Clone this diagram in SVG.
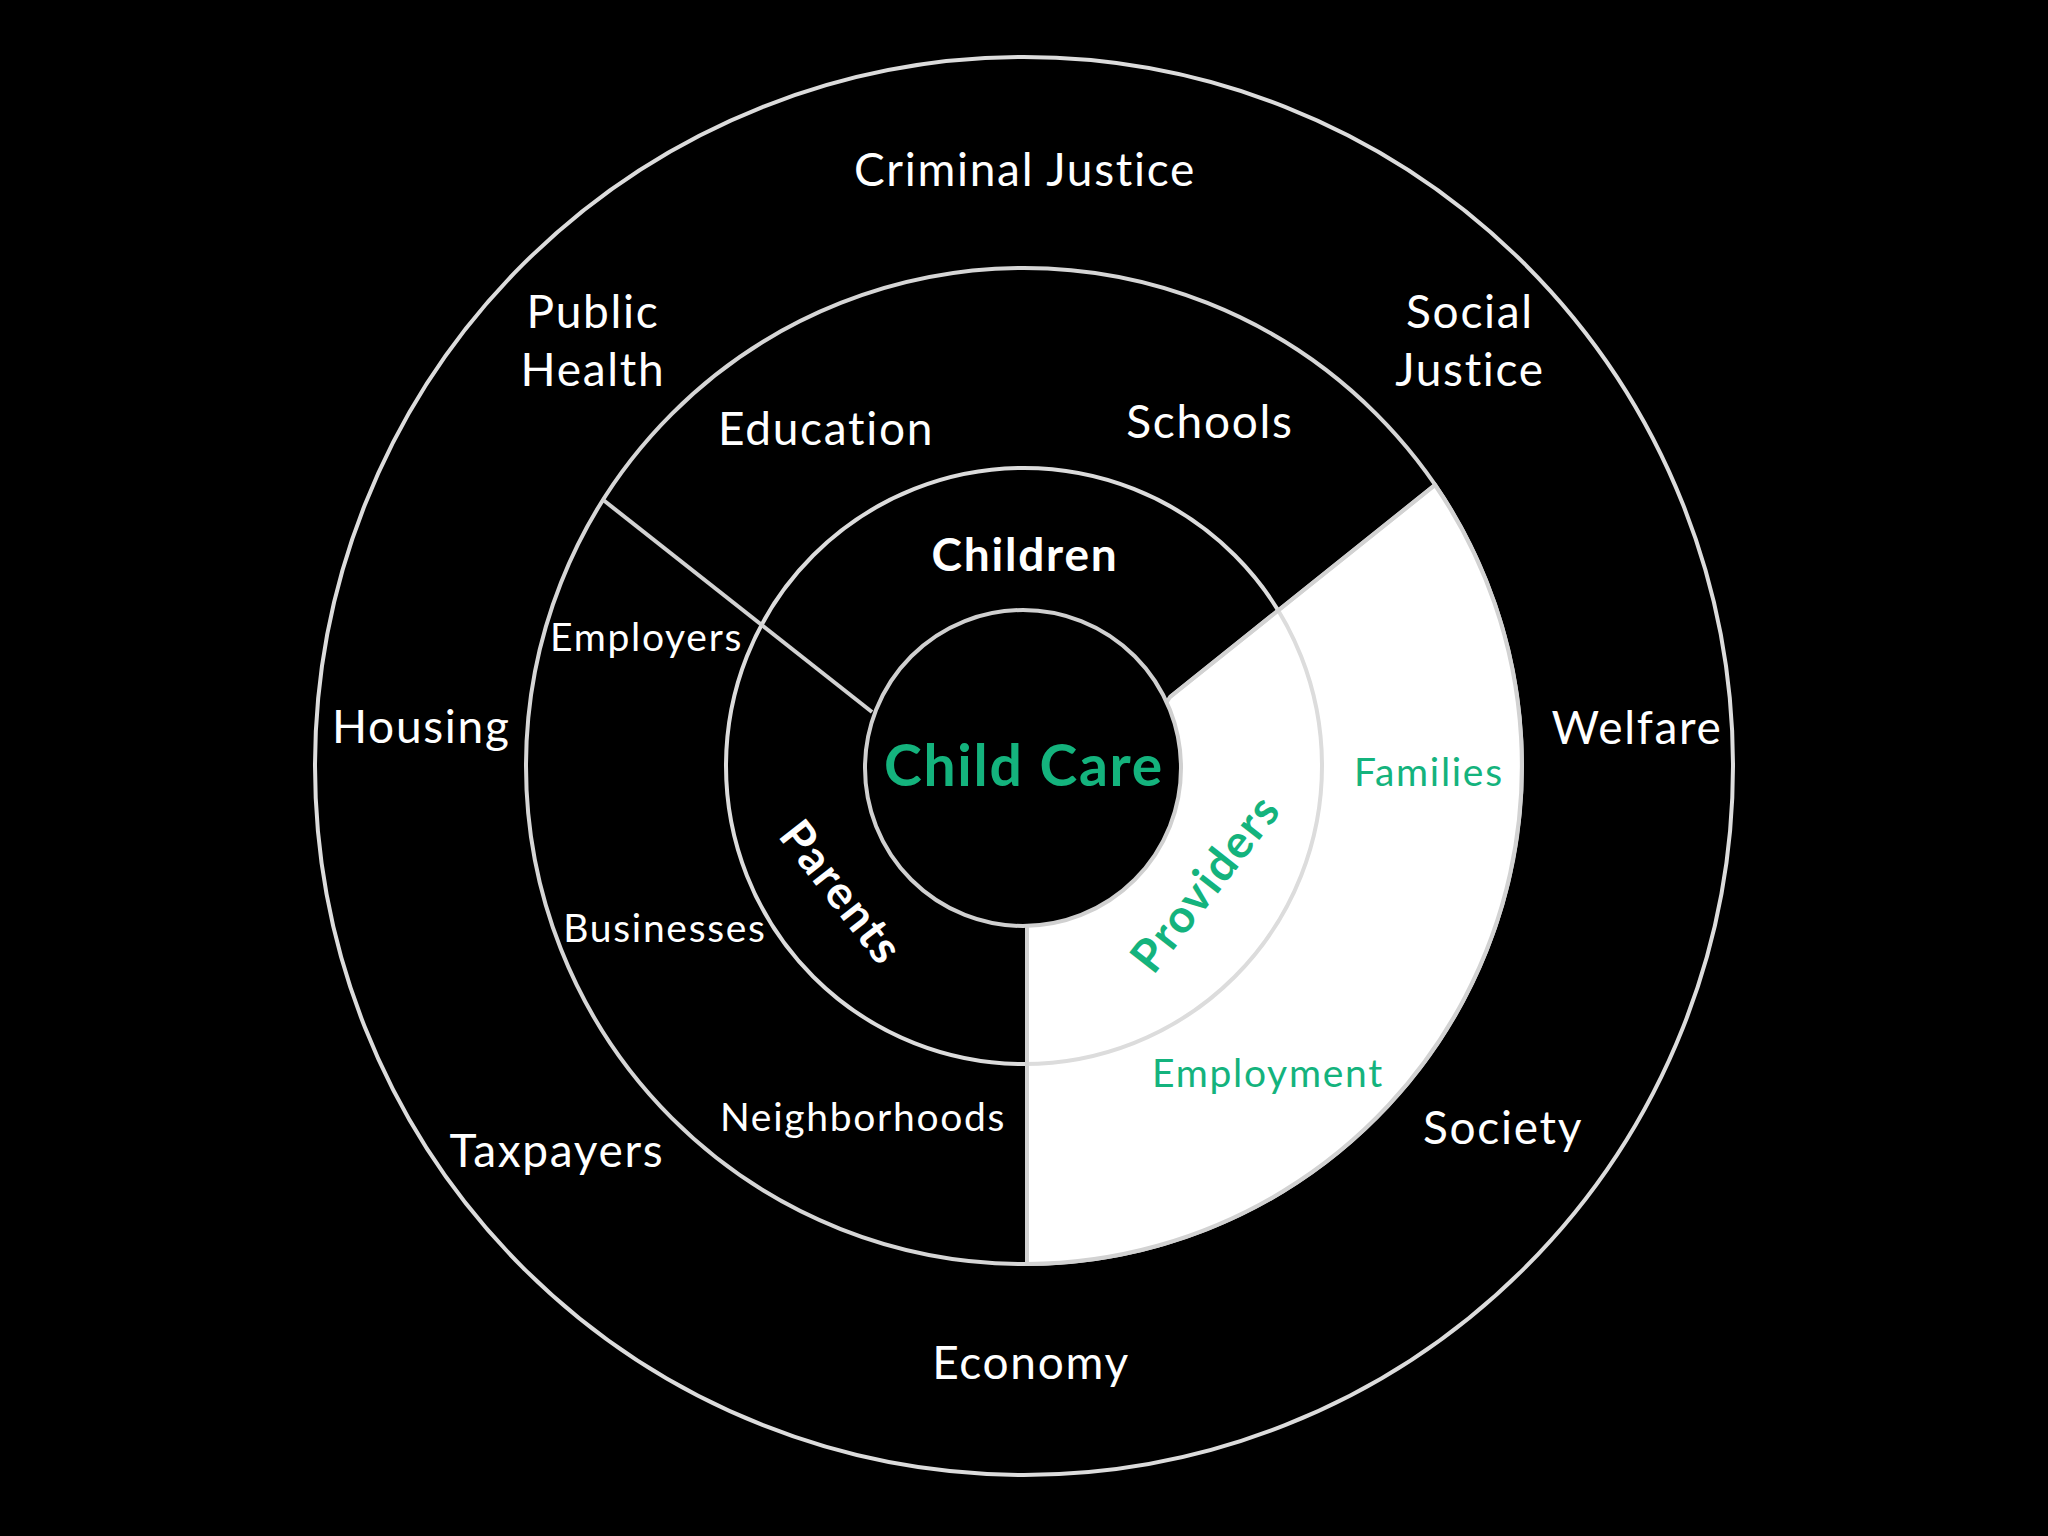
<svg xmlns="http://www.w3.org/2000/svg" width="2048" height="1536" viewBox="0 0 2048 1536">
<style>
.ring{fill:none;stroke:#dcdcdc;stroke-width:4}
.div{stroke:#d2d2d2;stroke-width:4;fill:none}
.t{font-family:Lato,"Open Sans",sans-serif;fill:#ffffff;letter-spacing:1.7px}
.lg{font-size:46px}
.sm{font-size:39px}
.b{font-weight:700;letter-spacing:1.8px}
.g{fill:#14b37d}
.m{text-anchor:middle}
</style>
<rect width="2048" height="1536" fill="#000000"/>
<g id="outer-ring"><circle class="ring" cx="1024" cy="766" r="709"/></g>
<g id="middle-ring"><circle cx="1024" cy="766" r="498" fill="#000000" stroke="#d6d6d6" stroke-width="4"/></g>
<g id="providers-sector"><path d="M1170,697 L1435,485 A498,498 0 0 1 1027,1264 L1027,924 Z" fill="#ffffff" stroke="#d2d2d2" stroke-width="4"/></g>
<g id="inner-ring"><circle class="ring" cx="1024" cy="766" r="298" stroke="#d0d0d0"/></g>
<g id="connectors">
<line class="div" x1="602" y1="499" x2="872" y2="712"/>
<line class="div" x1="1170" y1="697" x2="1435" y2="485"/>
<line class="div" x1="1027" y1="924" x2="1027" y2="1264"/>
</g>
<g id="center"><circle cx="1023" cy="768" r="158" fill="#000000" stroke="#d0d0d0" stroke-width="4"/>
<text class="t b g m" x="1024" y="786" font-size="57">Child Care</text></g>
<g id="outer-labels">
<text class="t lg m" x="1025" y="186">Criminal Justice</text>
<text class="t lg m" x="593" y="328">Public</text>
<text class="t lg m" x="593" y="386">Health</text>
<text class="t lg m" x="1470" y="328">Social</text>
<text class="t lg m" x="1470" y="386">Justice</text>
<text class="t lg" x="332" y="743">Housing</text>
<text class="t lg m" x="1637" y="744">Welfare</text>
<text class="t lg m" x="557" y="1167">Taxpayers</text>
<text class="t lg m" x="1503" y="1144">Society</text>
<text class="t lg m" x="1031" y="1379">Economy</text>
</g>
<g id="middle-labels">
<text class="t lg m" x="826" y="445">Education</text>
<text class="t lg m" x="1210" y="438">Schools</text>
<text class="t sm" x="550" y="651">Employers</text>
<text class="t sm m" x="665" y="942">Businesses</text>
<text class="t sm" x="720" y="1131">Neighborhoods</text>
<text class="t sm g" x="1354" y="786">Families</text>
<text class="t sm g" x="1152" y="1087">Employment</text>
</g>
<g id="inner-labels">
<text class="t b lg m" x="1025" y="571">Children</text>
<text class="t b m" font-size="46" transform="translate(829,902) rotate(52)">Parents</text>
<text class="t b g m" font-size="46" transform="translate(1218,893) rotate(-52)">Providers</text>
</g>
</svg>
